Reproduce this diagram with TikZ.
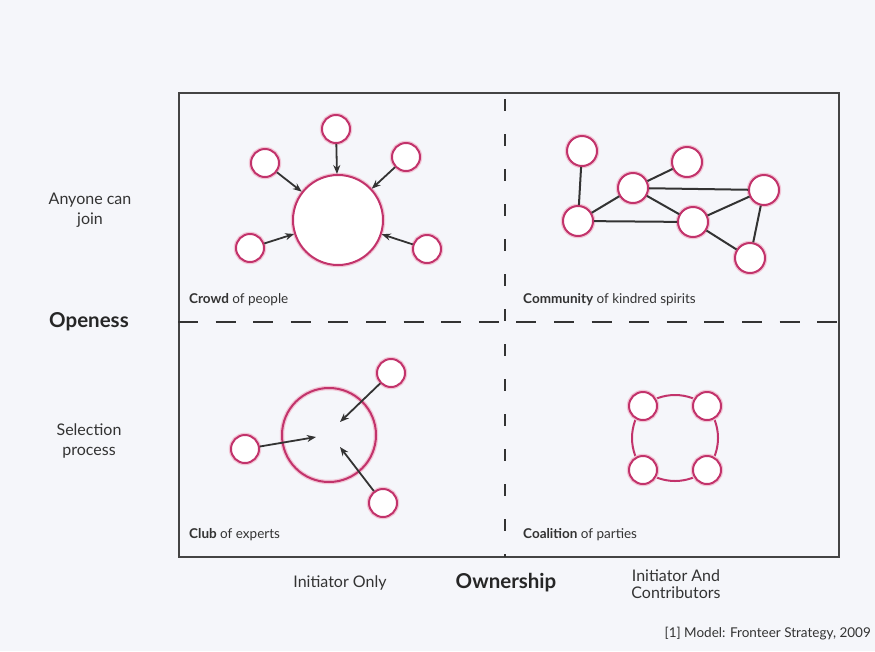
\documentclass[tikz,border=0pt]{standalone}
\usepackage{fontspec}
\setmainfont{Lato}
\usetikzlibrary{arrows.meta}
\definecolor{bgc}{HTML}{F5F6FA}
\definecolor{pinkc}{HTML}{C2336B}
\definecolor{glowc}{HTML}{F2C6D6}
\definecolor{inkc}{HTML}{333333}
\definecolor{framec}{HTML}{444444}
\tikzset{
  bignode/.style={circle, draw=pinkc, line width=2pt, fill=white, inner sep=0pt, minimum size=#1,
    preaction={draw=glowc, line width=4.5pt}},
  smallnode/.style={circle, draw=pinkc, line width=2pt, fill=white, inner sep=0pt, minimum size=28pt,
    preaction={draw=glowc, line width=4.5pt}},
  arr/.style={draw=inkc, line width=1.8pt, -{Stealth[length=9pt,width=7pt]}},
  link/.style={draw=inkc, line width=2pt},
  ring/.style={draw=pinkc, line width=2pt},
  quadlabel/.style={anchor=west, inner sep=0pt, text=inkc, font=\fontsize{13.5}{16}\selectfont},
  sidelabel/.style={align=center, inner sep=0pt, text=inkc, font=\fontsize{16}{20}\selectfont},
  axislabel/.style={inner sep=0pt, text=black!85, font=\fontsize{20.5}{24}\bfseries\selectfont},
}
\begin{document}
\begin{tikzpicture}[x=1pt, y=-1pt]
\useasboundingbox (0,0) rectangle (875,651);
\fill[bgc] (0,0) rectangle (875,651);
% frame
\draw[framec, line width=1.8pt] (179,93) rectangle (839,557);
% dashed axes
\draw[inkc, line width=2.6pt, dash pattern=on 20pt off 17.6pt] (178,322) -- (839,322);
\draw[inkc, line width=2.6pt, dash pattern=on 12pt off 23pt] (505,99) -- (505,557);

% Crowd
\node[bignode=90pt] (cb) at (338,220) {};
\node[smallnode] (c1) at (336,129) {};
\node[smallnode] (c2) at (265,163) {};
\node[smallnode] (c3) at (406,157) {};
\node[smallnode] (c4) at (250,248) {};
\node[smallnode] (c5) at (427,249) {};
\foreach \s in {c1,c2,c3,c4,c5} \draw[arr] (\s) -- (cb);
\node[quadlabel] (lcrowd) at (189,300) {\textbf{Crowd} of people};

% Community
\node[smallnode, minimum size=30pt] (mA) at (582,151) {};
\node[smallnode, minimum size=30pt] (mB) at (578,221) {};
\node[smallnode, minimum size=30pt] (mC) at (633,188) {};
\node[smallnode, minimum size=30pt] (mD) at (687,162) {};
\node[smallnode, minimum size=30pt] (mE) at (693,222) {};
\node[smallnode, minimum size=30pt] (mF) at (764,190) {};
\node[smallnode, minimum size=30pt] (mG) at (750,258) {};
\draw[link] (mA) -- (mB);
\draw[link] (mB) -- (mC);
\draw[link] (mB) -- (mE);
\draw[link] (mC) -- (mD);
\draw[link] (mC) -- (mF);
\draw[link] (mC) -- (mE);
\draw[link] (mE) -- (mF);
\draw[link] (mE) -- (mG);
\draw[link] (mF) -- (mG);
\node[quadlabel] (lcomm) at (523,300) {\textbf{Community} of kindred spirits};

% Club
\node[bignode=94pt, fill=none, preaction={}] (kb) at (329,435) {};
\node[smallnode] (k1) at (245,449) {};
\node[smallnode] (k2) at (391,373) {};
\node[smallnode] (k3) at (383,503) {};
\coordinate (t1) at (316,437);
\coordinate (t2) at (340,422);
\coordinate (t3) at (340,447);
\draw[arr] (k1) -- (t1);
\draw[arr] (k2) -- (t2);
\draw[arr] (k3) -- (t3);
\node[quadlabel] (lclub) at (189,535) {\textbf{Club} of experts};

% Coalition
\coordinate (q1) at (643,406);
\coordinate (q2) at (707,406);
\coordinate (q3) at (707,470);
\coordinate (q4) at (643,470);
\draw[ring] (q1) to[bend left=36] (q2) to[bend left=36] (q3) to[bend left=36] (q4) to[bend left=36] (q1);
\node[smallnode] (p1) at (q1) {};
\node[smallnode] (p2) at (q2) {};
\node[smallnode] (p3) at (q3) {};
\node[smallnode] (p4) at (q4) {};
\node[quadlabel] (lcoal) at (523,535) {\textbf{Coalition} of parties};

% side labels
\node[sidelabel] (any) at (90,210) {Anyone can\\join};
\node[axislabel] (open) at (89,322) {Openess};
\node[sidelabel] (sel) at (89,441) {Selection\\process};
\node[sidelabel] (ionly) at (340,583) {Initiator Only};
\node[axislabel] (own) at (506,583) {Ownership};
\node[sidelabel, font=\fontsize{16}{17.5}\selectfont] (iand) at (676,584) {Initiator And\\Contributors};
\node[anchor=east, inner sep=0pt, text=inkc, font=\fontsize{13.5}{16}\selectfont] (cite) at (871,634) {[1] Model: Fronteer Strategy, 2009};
\end{tikzpicture}
\end{document}
